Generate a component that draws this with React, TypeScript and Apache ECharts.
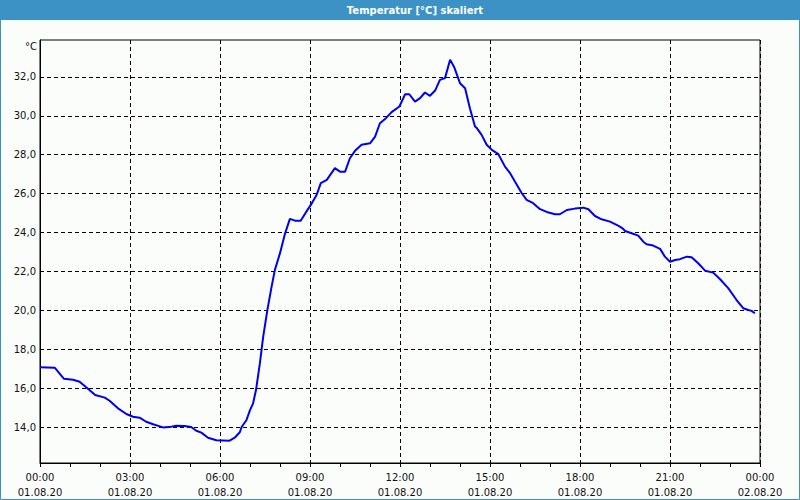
import React, { useEffect, useRef } from 'react';
import * as echarts from 'echarts';

const titleText = 'Temperatur [°C] skaliert';
const unitText = '°C';

const hours = [
  0, 0.49, 0.8, 1.1, 1.32, 1.54, 1.84, 2.16, 2.32, 2.6, 2.88, 3.1, 3.32, 3.54, 3.77,
  4.1, 4.38, 4.54, 4.82, 5.04, 5.21, 5.38, 5.6, 5.88, 6.32, 6.49, 6.66, 6.72, 6.88,
  7.0, 7.1, 7.2, 7.33, 7.44, 7.58, 7.72, 7.83, 8.0, 8.17, 8.33, 8.5, 8.69, 8.89, 9.06,
  9.22, 9.36, 9.56, 9.83, 10.0, 10.17, 10.33, 10.5, 10.72, 11.0, 11.17, 11.33, 11.53,
  11.72, 11.98, 12.17, 12.31, 12.5, 12.67, 12.83, 13.0, 13.17, 13.33, 13.5, 13.67, 13.8,
  14.0, 14.17, 14.33, 14.5, 14.56, 14.72, 14.89, 15.06, 15.28, 15.5, 15.67, 15.83, 16.06,
  16.22, 16.44, 16.67, 16.89, 17.17, 17.33, 17.56, 17.83, 18.11, 18.28, 18.5, 18.72, 19.0,
  19.22, 19.33, 19.44, 19.5, 19.72, 19.94, 20.11, 20.22, 20.44, 20.67, 20.83, 21.0, 21.17,
  21.33, 21.56, 21.72, 21.94, 22.17, 22.44, 22.67, 22.94, 23.22, 23.44, 23.61, 23.72, 23.83,
];

const temps = [
  17.07, 17.05, 16.48, 16.43, 16.33, 16.04, 15.65, 15.51, 15.35, 14.96, 14.67, 14.53, 14.48, 14.27, 14.14,
  13.98, 14.02, 14.07, 14.05, 14.0, 13.81, 13.71, 13.45, 13.32, 13.3, 13.45, 13.73, 14.0, 14.35,
  14.87, 15.2, 15.9, 17.28, 18.65, 20.02, 21.22, 22.08, 22.94, 23.96, 24.7, 24.61, 24.61, 25.1, 25.5,
  25.93, 26.54, 26.71, 27.31, 27.13, 27.13, 27.82, 28.2, 28.51, 28.59, 28.93, 29.62, 29.88,
  30.19, 30.48, 31.11, 31.11, 30.73, 30.91, 31.2, 31.03, 31.3, 31.85, 31.94, 32.88, 32.53,
  31.68, 31.42, 30.39, 29.45, 29.37, 29.02, 28.51, 28.25, 28.03, 27.39, 27.05, 26.62, 26.02,
  25.68, 25.51, 25.2, 25.06, 24.94, 24.94, 25.16, 25.23, 25.28, 25.2, 24.85, 24.68, 24.56,
  24.39, 24.3, 24.19, 24.08, 23.96, 23.84, 23.53, 23.4, 23.33, 23.16, 22.76, 22.5, 22.59,
  22.63, 22.76, 22.73, 22.42, 22.04, 21.94, 21.6, 21.14, 20.53, 20.11, 20.02, 19.97, 19.85,
];

const yTicks = [14, 16, 18, 20, 22, 24, 26, 28, 30, 32];
const xTickHours = [0, 3, 6, 9, 12, 15, 18, 21, 24];
const xTimeLabels = ['00:00', '03:00', '06:00', '09:00', '12:00', '15:00', '18:00', '21:00', '00:00'];
const xDateLabels = ['01.08.20', '01.08.20', '01.08.20', '01.08.20', '01.08.20', '01.08.20', '01.08.20', '01.08.20', '02.08.20'];

export default function App() {
  const ref = useRef<HTMLDivElement>(null);
  useEffect(() => {
    if (!ref.current) return;
    const chart = echarts.init(ref.current, null, { renderer: 'svg' });
    const font = 'DejaVu Sans';
    const data = hours.map((h, i) => [h, temps[i]]);
    chart.setOption({
      animation: false,
      backgroundColor: '#fbfdfb',
      grid: {
        left: 40,
        right: 40,
        top: 40,
        bottom: 37,
        show: true,
        borderColor: '#000',
        borderWidth: 1,
        backgroundColor: 'transparent',
      },
      graphic: [
        {
          type: 'rect',
          shape: { x: 0, y: 0, width: 800, height: 20 },
          style: { fill: '#3d92c5' },
          z: 10,
        },
        {
          type: 'text',
          x: 415,
          y: 10,
          style: {
            text: titleText,
            fill: '#fff',
            font: 'bold 10px "DejaVu Sans"',
            align: 'center',
            verticalAlign: 'middle',
          },
          z: 11,
        },
        {
          type: 'rect',
          shape: { x: 0.5, y: 0.5, width: 799, height: 499 },
          style: { fill: 'none', stroke: '#3d92c5', lineWidth: 1 },
          z: 10,
        },
        {
          type: 'text',
          x: 37,
          y: 46,
          style: {
            text: unitText,
            fill: '#111',
            font: '10px "DejaVu Sans"',
            align: 'right',
            verticalAlign: 'middle',
          },
        },
      ],
      xAxis: {
        type: 'value',
        min: 0,
        max: 24,
        interval: 3,
        axisLine: { show: true, lineStyle: { color: '#000', width: 1 } },
        axisTick: { show: true, length: 4, lineStyle: { color: '#000' } },
        minorTick: { show: true, splitNumber: 3, length: 4, lineStyle: { color: '#000' } },
        splitLine: { show: true, lineStyle: { color: '#000', type: [4, 3], width: 1 } },
        axisLabel: {
          color: '#111',
          fontFamily: font,
          fontSize: 10,
          lineHeight: 15,
          margin: 7,
          showMinLabel: true,
          showMaxLabel: true,
          formatter: (v: number) => {
            const i = xTickHours.indexOf(v);
            return i >= 0 ? `${xTimeLabels[i]}\n${xDateLabels[i]}` : '';
          },
        },
      },
      yAxis: {
        type: 'value',
        min: 12.15,
        max: 33.9,
        axisLine: { show: true, lineStyle: { color: '#000', width: 1 } },
        axisTick: { show: false, customValues: yTicks },
        splitLine: { show: true, lineStyle: { color: '#000', type: [4, 3], width: 1 } },
        axisLabel: {
          color: '#111',
          fontFamily: font,
          fontSize: 10,
          margin: 4,
          customValues: yTicks,
          formatter: (v: number) => v.toFixed(1).replace('.', ','),
        },
      },
      series: [
        {
          type: 'line',
          data,
          showSymbol: false,
          symbol: 'none',
          lineStyle: { color: '#0000f0', width: 2 },
          clip: true,
        },
      ],
    });
    return () => chart.dispose();
  }, []);
  return (
    <div
      ref={ref}
      style={{ position: 'absolute', left: 0, top: 0, width: 800, height: 500 }}
    />
  );
}
